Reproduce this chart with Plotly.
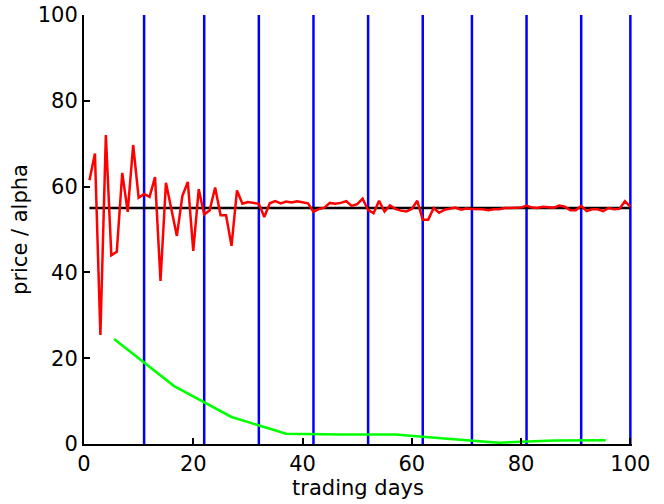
import plotly.graph_objects as go

days = list(range(1, 101))
price = [61.5, 67.7, 25.4, 72.0, 44.0, 44.8, 63.2, 54.1, 69.7, 57.4,
         58.3, 57.6, 62.2, 38.0, 60.9, 55.0, 48.5, 57.8, 61.1, 45.0,
         59.4, 53.5, 54.5, 59.8, 53.3, 53.3, 46.2, 59.1, 56.0, 56.4,
         56.2, 56.0, 52.9, 56.1, 56.6, 56.1, 56.5, 56.3, 56.6, 56.4,
         56.1, 54.1, 54.8, 55.1, 56.2, 56.0, 56.2, 56.6, 55.5, 55.9,
         57.2, 54.5, 53.8, 56.7, 54.2, 55.6, 54.8, 54.4, 54.2, 54.8,
         56.7, 52.3, 52.3, 55.0, 53.9, 54.6, 54.8, 55.1, 54.6, 54.9,
         54.8, 54.8, 54.7, 54.5, 54.7, 54.7, 55.0, 55.0, 55.1, 55.1,
         55.6, 55.1, 55.0, 55.3, 55.2, 55.1, 55.6, 55.3, 54.5, 54.5,
         55.5, 54.3, 54.7, 54.7, 54.3, 55.0, 54.7, 54.8, 56.6, 55.3]

equilibrium_x = [1, 100]
equilibrium_y = [55, 55]

alpha_x = [5.5, 16.5, 27, 37, 47, 57, 66.5, 76, 86, 95.5]
alpha_y = [24.5, 13.5, 6.3, 2.4, 2.2, 2.2, 1.2, 0.3, 0.8, 0.9]

period_ends = [11, 22, 32, 42, 52, 62, 71, 81, 91, 100]

x_ticks = [0, 20, 40, 60, 80, 100]
y_ticks = [0, 20, 40, 60, 80, 100]

bx, by = [], []
for v in period_ends:
    bx += [v, v, None]
    by += [0, 100, None]

fig = go.Figure()
fig.add_trace(go.Scatter(x=bx, y=by, mode="lines",
                         line=dict(color="#0000ff", width=2.5), hoverinfo="skip"))
fig.add_trace(go.Scatter(x=equilibrium_x, y=equilibrium_y, mode="lines",
                         line=dict(color="#000000", width=2.5)))
fig.add_trace(go.Scatter(x=days, y=price, mode="lines",
                         line=dict(color="#ff0000", width=2.5)))
fig.add_trace(go.Scatter(x=alpha_x, y=alpha_y, mode="lines",
                         line=dict(color="#00ff00", width=2.5)))

font = dict(family="DejaVu Sans", size=21, color="#000000")

fig.update_layout(
    width=664, height=504,
    margin=dict(l=84, r=32, t=15, b=60),
    paper_bgcolor="white", plot_bgcolor="white",
    showlegend=False,
    font=font,
    xaxis=dict(range=[0, 100.3], tickvals=x_ticks, ticktext=[str(v) for v in x_ticks],
               showgrid=False, zeroline=False, showline=True, linecolor="black",
               linewidth=2, ticks="inside", ticklen=6, tickwidth=2, tickcolor="black",
               tickfont=font, automargin=False,
               title=dict(text="trading days", font=font, standoff=2)),
    yaxis=dict(range=[0, 100], tickvals=y_ticks, ticktext=[str(v) for v in y_ticks],
               showgrid=False, zeroline=False, showline=True, linecolor="black",
               linewidth=2, ticks="inside", ticklen=6, tickwidth=2, tickcolor="black",
               tickfont=font, automargin=False,
               title=dict(text="price / alpha", font=font, standoff=4)),
)

fig.write_html("out.html")
